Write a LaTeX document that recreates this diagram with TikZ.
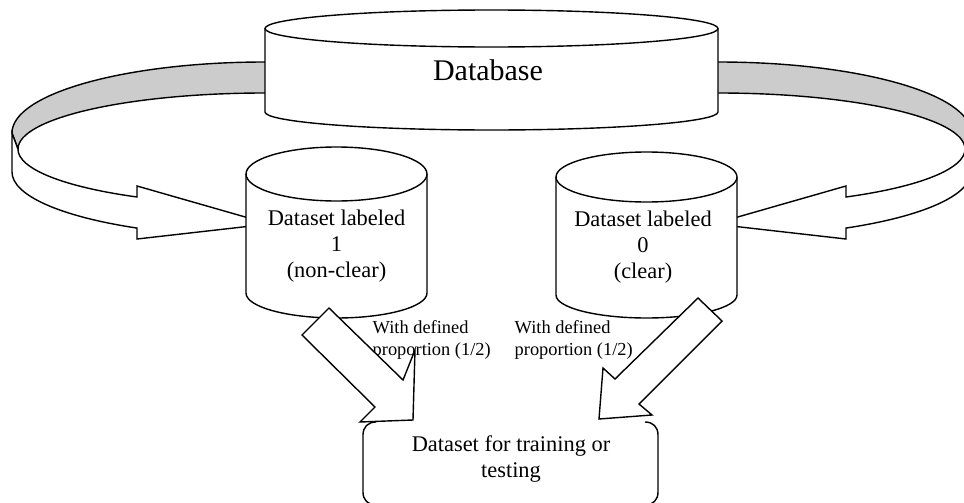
\documentclass[tikz,border=0pt]{standalone}
\usepackage{fontspec}
\setmainfont{Liberation Serif}

% bent arrow from the database to a dataset (left hand version)
\newcommand{\bentarrow}{%
	% grey upper face
	\draw[fill=gray!40] (265,62) arc[start angle=270, end angle=180, x radius=253, y radius=71]
		-- (18,149) arc[start angle=180, end angle=270, x radius=247, y radius=56];
	% white lower face with head
	\draw[fill=white] (12,133) -- (12,172) arc[start angle=180, end angle=120.4, x radius=253, y radius=65]
		-- (137,239) -- (247,226.5) -- (247,217.5) -- (137,186) -- (137,197)
		arc[start angle=121.2, end angle=180, x radius=247, y radius=56] -- cycle;
}

\begin{document}
\begin{tikzpicture}[
	x=0.5pt, y=0.5pt, yscale=-1, line width=0.7pt,
	every node/.style={inner sep=0pt},
	cyl/.style={draw, fill=white},
	blockarrow/.style={draw, fill=white},
	dbtext/.style={font=\fontsize{15}{18}\selectfont},
	cyltext/.style={font=\fontsize{11.2}{13}\selectfont, align=center},
	proptext/.style={font=\fontsize{9.2}{11}\selectfont, align=left, anchor=west},
	]
		\useasboundingbox (0,0) rectangle (964,503);
		\clip (0,0) rectangle (964,503);

		%Bent arrows
		\bentarrow
		\begin{scope}[shift={(983,0)}, xscale=-1]
			\bentarrow
		\end{scope}

		%Cylinders
		\draw[cyl] (265,28.5) -- (265,112) arc[start angle=180, end angle=0, x radius=226.5, y radius=18] -- (718,28.5);
		\draw[cyl] (491.5,28.5) ellipse [x radius=226.5, y radius=18.5];
		\draw[cyl] (246,174) -- (246,293) arc[start angle=180, end angle=0, x radius=90.5, y radius=25] -- (427,174);
		\draw[cyl] (336.5,174) ellipse [x radius=90.5, y radius=27];
		\draw[cyl] (556,177) -- (556,295) arc[start angle=180, end angle=0, x radius=90.5, y radius=23] -- (737,177);
		\draw[cyl] (646.5,177) ellipse [x radius=90.5, y radius=25];

		%Nodes
		\node[dbtext]   (db)    at (488,70)    {Database};
		\node[cyltext]  (set1)  at (336.5,246) {Dataset labeled\\1\\(non-clear)};
		\node[cyltext]  (set0)  at (643,247)   {Dataset labeled\\0\\(clear)};
		\node[proptext] (prop1) at (372,340)   {With defined\\proportion (1/2)};
		\node[proptext] (prop0) at (514,340)   {With defined\\proportion (1/2)};
		\node[cyltext]  (train) at (511,459)   {Dataset for training or\\testing};

		%Block arrows
		\draw[blockarrow] (302,335) -- (329,308) -- (403,380) -- (415,350) -- (413,420) -- (360,422) -- (375,407) -- cycle;
		\draw[blockarrow] (722,321) -- (698,298) -- (615,379) -- (603,368) -- (599,419) -- (652,415) -- (639,404) -- cycle;

		%Box sides
		\draw (376,422) .. controls (368,422) and (363,427) .. (363,435) -- (363,492) .. controls (363,500) and (368,505) .. (376,505);
		\draw (645,422) .. controls (653,422) and (658,427) .. (658,435) -- (658,492) .. controls (658,500) and (653,505) .. (645,505);
	\end{tikzpicture}
\end{document}
